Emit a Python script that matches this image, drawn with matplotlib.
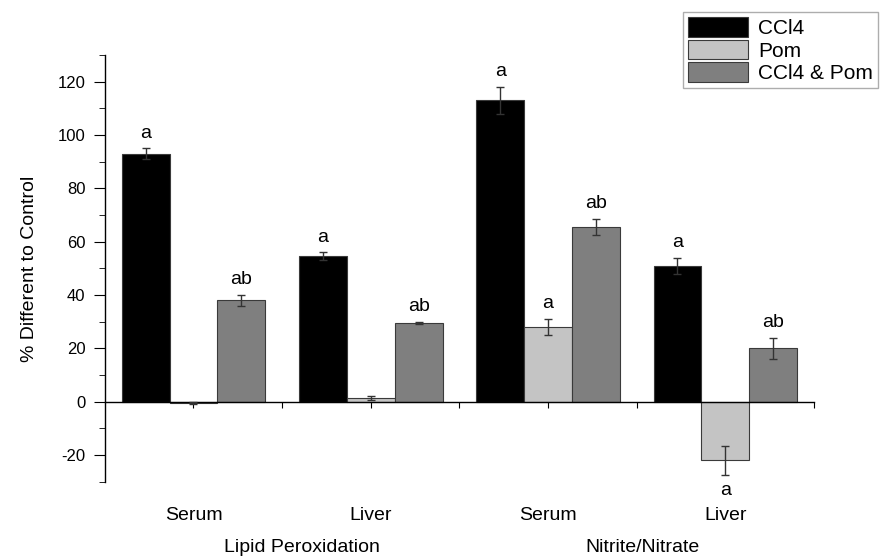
import numpy as np
import matplotlib.pyplot as plt
from matplotlib.ticker import MultipleLocator
from matplotlib.transforms import blended_transform_factory

plt.rcParams['font.family'] = ['Liberation Sans', 'DejaVu Sans']
plt.rcParams['axes.unicode_minus'] = False

# data
groups = ['Serum', 'Liver', 'Serum', 'Liver']
assays = ['Lipid Peroxidation', 'Nitrite/Nitrate']
series = ['CCl4', 'Pom', 'CCl4 & Pom']
ccl4 = [93, 54.5, 113, 51]
pom = [-0.5, 1.5, 28, -22]
ccl4_pom = [38, 29.5, 65.5, 20]
ccl4_err = [2, 1.5, 5, 3]
pom_err = [0.5, 0.8, 3, 5.5]
ccl4_pom_err = [2, 0.5, 3, 4]
ccl4_sig = ['a', 'a', 'a', 'a']
pom_sig = ['', '', 'a', 'a']
ccl4_pom_sig = ['ab', 'ab', 'ab', 'ab']

colors = ['#000000', '#c4c4c4', '#7f7f7f']

fig = plt.figure(figsize=(8.96, 5.57), dpi=100)
ax = fig.add_axes([0.117, 0.135, 0.7915, 0.766])

x = np.arange(1, len(groups) + 1)
w = 0.27
vals = [ccl4, pom, ccl4_pom]
errs = [ccl4_err, pom_err, ccl4_pom_err]
sigs = [ccl4_sig, pom_sig, ccl4_pom_sig]

for i, (v, e, s) in enumerate(zip(vals, errs, sigs)):
    xi = x + (i - 1) * w
    ax.bar(xi, v, width=w, color=colors[i], edgecolor='#3a3a3a', linewidth=0.8,
           label=series[i], zorder=2)
    ax.errorbar(xi, v, yerr=e, fmt='none', ecolor='#333333', elinewidth=1,
                capsize=3, capthick=1, zorder=3)
    for xx, vv, ee, ss in zip(xi, v, e, s):
        if not ss:
            continue
        if vv >= 0:
            ax.text(xx, vv + ee + 2.5, ss, ha='center', va='bottom', fontsize=14)
        else:
            ax.text(xx, vv - ee - 2.5, ss, ha='center', va='top', fontsize=14)

ax.set_xlim(0.5, 4.5)
ax.set_ylim(-30, 130)
ax.spines['top'].set_visible(False)
ax.spines['right'].set_visible(False)
ax.spines['bottom'].set_position(('data', 0))
ax.spines['left'].set_linewidth(1)
ax.spines['bottom'].set_linewidth(1)

ax.yaxis.set_minor_locator(MultipleLocator(10))
ax.set_yticks(np.arange(-20, 121, 20))
ax.tick_params(axis='y', which='major', length=8, labelsize=12, pad=6)
ax.tick_params(axis='y', which='minor', length=4)
ax.set_xticks(np.arange(1, 4.51, 0.5))
ax.set_xticklabels([])
ax.tick_params(axis='x', which='major', length=4, direction='out')
ax.set_ylabel('% Different to Control', fontsize=14, labelpad=14)

trans = blended_transform_factory(ax.transData, ax.transAxes)
for xx, g in zip(x, groups):
    ax.text(xx, -0.08, g, transform=trans, ha='center', va='center', fontsize=14)
ax.text(1.61, -0.155, assays[0], transform=trans, ha='center', va='center', fontsize=14)
ax.text(3.53, -0.155, assays[1], transform=trans, ha='center', va='center', fontsize=14)

leg = fig.legend(loc='upper left', bbox_to_anchor=(0.762, 0.978), fontsize=15,
                 handlelength=2.9, handleheight=1.05, handletextpad=0.45,
                 labelspacing=0.08, borderpad=0.25, fancybox=False,
                 edgecolor='#999999', borderaxespad=0)
leg.get_frame().set_linewidth(1)

fig.savefig('out.png', dpi=100)
